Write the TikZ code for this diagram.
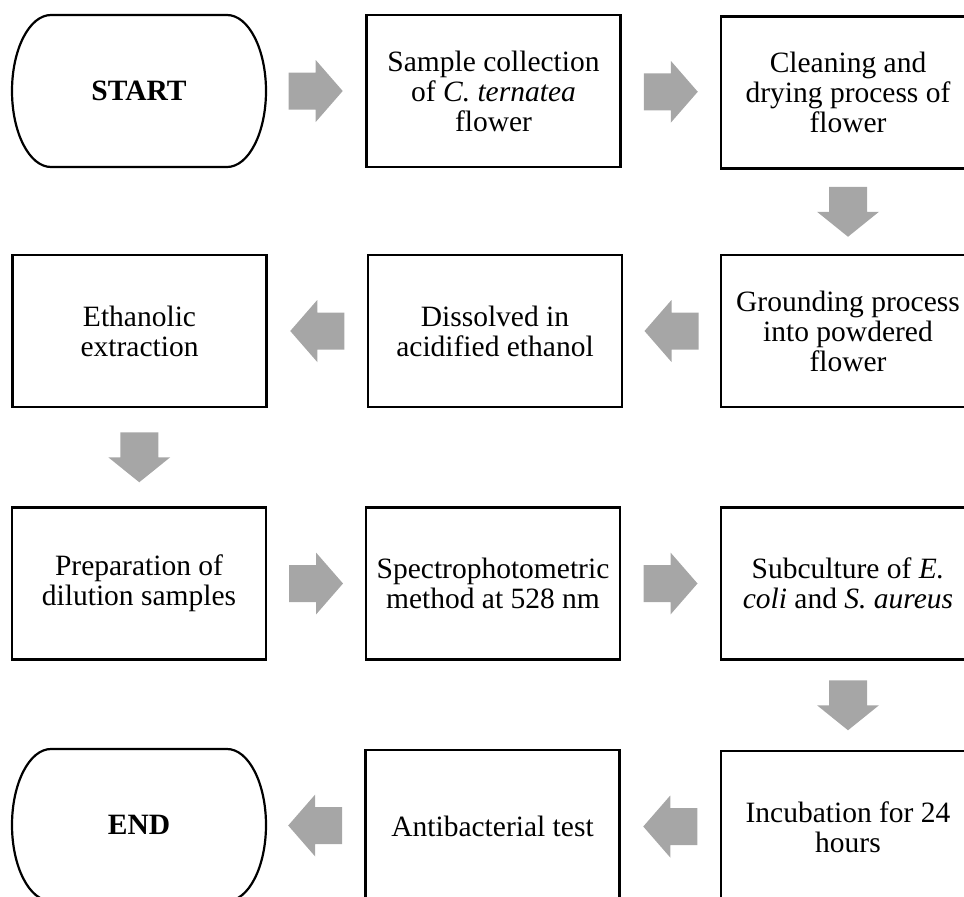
\documentclass[tikz,border=0pt]{standalone}
\usepackage{fontspec}
\setmainfont{Liberation Serif}
\usetikzlibrary{calc}
\definecolor{arrowgray}{RGB}{166,166,166}
\begin{document}
\begin{tikzpicture}[x=1pt,y=-1pt,
  stepbox/.style={draw, line width=2.2pt, minimum width=254pt, minimum height=152pt,
    align=center, inner sep=0pt, font=\fontsize{29.5}{30}\selectfont},
  termbox/.style={minimum width=254pt, minimum height=152pt, outer sep=0pt,
    align=center, inner sep=0pt, font=\fontsize{29.5}{30}\selectfont\bfseries},
  termline/.style={line width=2.2pt},
  pics/harrow/.style={code={\fill[arrowgray] (-27,-18.5) -- (0,-18.5) -- (0,-31) -- (27,0) -- (0,31) -- (0,18.5) -- (-27,18.5) -- cycle;}},
  pics/varrow/.style={code={\fill[arrowgray] (-25,-19) -- (0,-19) -- (0,-31) -- (25,0) -- (0,31) -- (0,19) -- (-25,19) -- cycle;}}
]
\useasboundingbox (0,0) rectangle (964,897);
\clip (0,0) rectangle (964,897);

% row 1
\node[termbox] (start) at (139,91) {START};
\node[stepbox] (sample) at (493.5,91) {Sample collection\\of \textit{C. ternatea}\\flower};
\node[stepbox] (clean) at (848,92.5) {Cleaning and\\drying process of\\flower};
% row 2
\node[stepbox] (ground) at (848,331) {Grounding process\\into powdered\\flower};
\node[stepbox] (dissolve) at (495,331) {Dissolved in\\acidified ethanol};
\node[stepbox] (ethanol) at (139.5,331) {Ethanolic\\extraction};
% row 3
\node[stepbox] (prep) at (139,583.5) {Preparation of\\dilution samples};
\node[stepbox] (spectro) at (493,583.5) {Spectrophotometric\\method at 528 nm};
\node[stepbox] (subcult) at (848,583.5) {Subculture of \textit{E.}\\\textit{coli} and \textit{S. aureus}};
% row 4
\node[stepbox] (incub) at (848,827) {Incubation for 24\\hours};
\node[stepbox] (anti) at (492.5,826) {Antibacterial test};
\node[termbox] (endn) at (139,825) {END};

% terminator outlines
\draw[termline] ([xshift=39pt]start.north west) -- ([xshift=-39pt]start.north east)
  arc[start angle=90,end angle=-90,x radius=39pt,y radius=76pt]
  -- ([xshift=39pt]start.south west)
  arc[start angle=270,end angle=90,x radius=39pt,y radius=76pt] -- cycle;
\draw[termline] ([xshift=39pt]endn.north west) -- ([xshift=-39pt]endn.north east)
  arc[start angle=90,end angle=-90,x radius=39pt,y radius=76pt]
  -- ([xshift=39pt]endn.south west)
  arc[start angle=270,end angle=90,x radius=39pt,y radius=76pt] -- cycle;

% block arrows
\pic at ($(start.east)!0.5!(sample.west)$) {harrow};
\pic at ($(sample.east)!0.5!(clean.west)$) {harrow};
\pic[rotate=-90] at ($(clean.south)!0.5!(ground.north)$) {varrow};
\pic[rotate=180] at ($(ground.west)!0.5!(dissolve.east)$) {harrow};
\pic[rotate=180] at ($(dissolve.west)!0.5!(ethanol.east)$) {harrow};
\pic[rotate=-90] at ($(ethanol.south)!0.5!(prep.north)$) {varrow};
\pic at ($(prep.east)!0.5!(spectro.west)$) {harrow};
\pic at ($(spectro.east)!0.5!(subcult.west)$) {harrow};
\pic[rotate=-90] at ($(subcult.south)!0.5!(incub.north)$) {varrow};
\pic[rotate=180] at ($(incub.west)!0.5!(anti.east)$) {harrow};
\pic[rotate=180] at ($(anti.west)!0.5!(endn.east)$) {harrow};
\end{tikzpicture}
\end{document}
